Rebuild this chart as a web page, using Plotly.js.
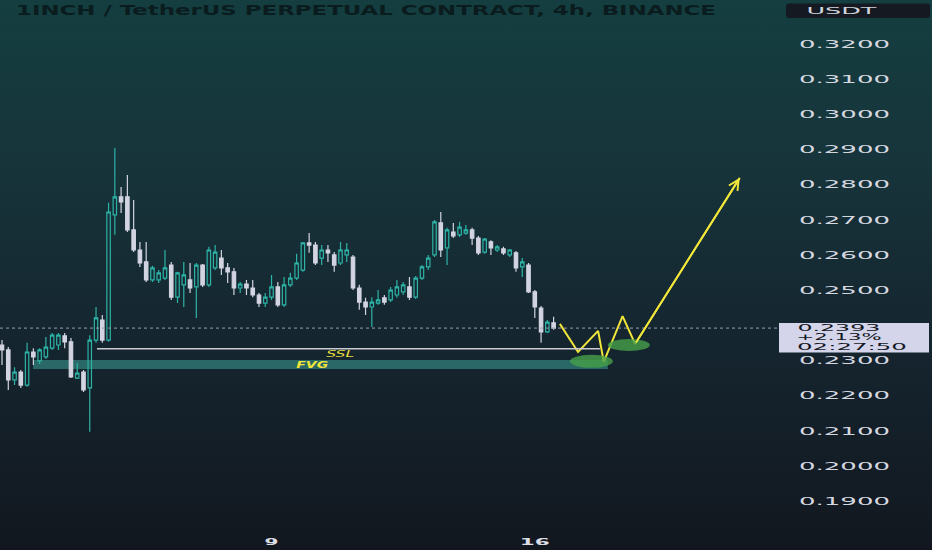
<!DOCTYPE html>
<html><head><meta charset="utf-8">
<script src="https://cdn.plot.ly/plotly-3.0.1.min.js"></script>
<style>
html,body{margin:0;padding:0;background:#131722;}
#chart{width:932px;height:550px;background:linear-gradient(180deg,#143e40 0%,#17343b 30%,#152630 60%,#12171f 100%);}
</style></head><body><div id="chart"></div>
<script>
// ---- data (4h candles) ----
const startTime = Date.UTC(2024, 10, 1, 20); // first candle: Nov 1, 20:00
const open = [
 .2345,.2331,.2246,.2268,.2231,.2325,.2300,.2311,.2336,.2345,
 .2371,.2354,.2251,.2268,.2223,.2359,.2416,.2359,.2715,.2766,
 .2766,.2672,.2615,.2581,.2530,.2530,.2535,.2572,.2481,.2516,
 .2530,.2510,.2572,.2516,.2564,.2592,.2564,.2553,.2507,.2518,
 .2507,.2487,.2464,.2481,.2510,.2459,.2516,.2535,.2558,.2635,
 .2629,.2592,.2615,.2601,.2578,.2601,.2595,.2507,.2467,.2453,
 .2464,.2479,.2473,.2487,.2496,.2510,.2481,.2535,.2567,.2601,
 .2692,.2621,.2666,.2658,.2663,.2672,.2649,.2609,.2638,.2615,
 .2618,.2601,.2607,.2567,.2572,.2496,.2450,.2382,.2408];
const high = [
 .2359,.2339,.2282,.2274,.2351,.2336,.2336,.2368,.2379,.2379,
 .2379,.2365,.2294,.2274,.2373,.2453,.2430,.2749,.2905,.2794,
 .2828,.2757,.2638,.2638,.2570,.2558,.2615,.2581,.2553,.2581,
 .2578,.2578,.2575,.2624,.2629,.2615,.2578,.2564,.2524,.2530,
 .2530,.2493,.2493,.2544,.2524,.2538,.2550,.2604,.2638,.2663,
 .2638,.2629,.2629,.2609,.2638,.2635,.2601,.2516,.2479,.2481,
 .2501,.2487,.2510,.2530,.2524,.2538,.2541,.2572,.2601,.2700,
 .2723,.2678,.2692,.2695,.2686,.2678,.2655,.2649,.2643,.2629,
 .2624,.2618,.2612,.2592,.2578,.2501,.2456,.2416,.2425];
const low = [
 .2288,.2217,.2231,.2223,.2226,.2288,.2291,.2305,.2331,.2331,
 .2336,.2251,.2248,.2211,.2098,.2351,.2351,.2354,.2658,.2720,
 .2666,.2609,.2567,.2524,.2524,.2521,.2530,.2473,.2464,.2453,
 .2493,.2422,.2510,.2510,.2558,.2544,.2521,.2487,.2493,.2487,
 .2481,.2453,.2453,.2473,.2453,.2453,.2510,.2530,.2553,.2607,
 .2572,.2572,.2581,.2553,.2572,.2581,.2501,.2445,.2430,.2396,
 .2459,.2459,.2467,.2479,.2487,.2473,.2476,.2530,.2558,.2595,
 .2595,.2572,.2649,.2652,.2658,.2629,.2601,.2604,.2601,.2609,
 .2601,.2595,.2553,.2538,.2493,.2422,.2351,.2379,.2388];
const close = [
 .2331,.2246,.2268,.2231,.2325,.2311,.2331,.2339,.2373,.2373,
 .2354,.2254,.2265,.2217,.2359,.2422,.2359,.2723,.2766,.2752,
 .2672,.2615,.2578,.2530,.2564,.2550,.2564,.2481,.2550,.2544,
 .2507,.2572,.2516,.2615,.2609,.2564,.2553,.2507,.2518,.2507,
 .2487,.2464,.2481,.2510,.2459,.2516,.2535,.2578,.2635,.2629,
 .2578,.2615,.2607,.2572,.2615,.2615,.2507,.2467,.2453,.2467,
 .2473,.2467,.2501,.2510,.2516,.2481,.2535,.2567,.2592,.2695,
 .2615,.2672,.2655,.2680,.2672,.2649,.2607,.2646,.2621,.2624,
 .2607,.2615,.2564,.2581,.2496,.2453,.2382,.2410,.2393];

const priceTicks = [0.32,0.31,0.30,0.29,0.28,0.27,0.26,0.25,0.23,0.22,0.21,0.20,0.19];
const priceTickText = ['0.3200','0.3100','0.3000','0.2900','0.2800','0.2700','0.2600','0.2500','0.2300','0.2200','0.2100','0.2000','0.1900'];
const dateTicks = ['2024-11-09 00:00','2024-11-16 00:00'];
const dateTickText = ['9','16'];

// drawings
const zigzagTimes = ['2024-11-16 16:00','2024-11-17 03:36','2024-11-17 16:24','2024-11-17 20:00','2024-11-18 08:00','2024-11-18 16:00','2024-11-21 10:48'];
const zigzagPrices = [0.2405,0.2325,0.2385,0.2297,0.2427,0.2348,0.2820];
const sslLevel = 0.2334, sslStart = '2024-11-04 08:36', sslEnd = '2024-11-17 17:36';
const fvgLow = 0.2277, fvgHigh = 0.2302, fvgStart = '2024-11-02 15:48', fvgEnd = '2024-11-17 22:36';
const zone1 = {t0:'2024-11-16 22:24', t1:'2024-11-18 01:48', p0:0.2280, p1:0.2317};
const zone2 = {t0:'2024-11-17 22:36', t1:'2024-11-19 01:24', p0:0.2328, p1:0.2362};
const lastPriceText = '0.2393', changeText = '+2.13%', countdownText = '02:27:50';
const titleText = '1INCH / TetherUS PERPETUAL CONTRACT, 4h, BINANCE';

function barTime(k){
  return new Date(startTime + k*4*3600000).toISOString().slice(0,16).replace('T',' ');
}
const times = open.map((_,k)=>barTime(k));
const lastClose = close[close.length-1];

const W = 932, H = 550, ML = 0, MR = 154, MT = 0, MB = 30;
const plotW = W-ML-MR, plotH = H-MT-MB;
const px = v => v/plotW;      // pixel to paper x
const py = v => 1 - v/plotH;  // pixel to paper y

const traces = [
 {type:'candlestick', x:times, open:open, high:high, low:low, close:close,
  increasing:{line:{color:'#2db3a6',width:1.2}, fillcolor:'rgba(0,0,0,0)'},
  decreasing:{line:{color:'#d3d4e2',width:1.2}, fillcolor:'#d3d4e2'},
  whiskerwidth:0, hoverinfo:'skip', showlegend:false},
 {type:'scatter', mode:'lines', x:zigzagTimes, y:zigzagPrices,
  line:{color:'#f2e63a',width:2}, hoverinfo:'skip', showlegend:false}
];

const layout = {
  width:W, height:H, margin:{l:ML,r:MR,t:MT,b:MB},
  paper_bgcolor:'rgba(0,0,0,0)', plot_bgcolor:'rgba(0,0,0,0)',
  showlegend:false, boxgap:0.22,
  title:{text:titleText, x:16/W, xanchor:'left', xref:'container', y:1-10.5/H, yanchor:'middle', yref:'container',
         font:{family:'DejaVu Sans', size:13.5, color:'#0b1c1f', weight:'bold'}},
  xaxis:{type:'date', range:[barTime(-0.32), barTime(123.8)], rangeslider:{visible:false},
         showgrid:false, zeroline:false, showline:false, ticks:'',
         tickvals:dateTicks, ticktext:dateTickText, ticklabelstandoff:15,
         tickfont:{family:'DejaVu Sans', size:8.5, color:'#dcdee6', weight:'bold'}},
  yaxis:{side:'right', range:[0.18475,0.33256], showgrid:false, zeroline:false, showline:false, ticks:'',
         tickvals:priceTicks, ticktext:priceTickText, ticklabelstandoff:20,
         tickfont:{family:'DejaVu Sans', size:9.8, color:'#d6d8e0'}},
  shapes:[
    {type:'rect', layer:'below', xref:'x', yref:'y', x0:fvgStart, x1:fvgEnd, y0:fvgLow, y1:fvgHigh,
     fillcolor:'rgba(55,150,140,0.6)', line:{width:0}},
    {type:'line', xref:'x', yref:'y', x0:sslStart, x1:sslEnd, y0:sslLevel, y1:sslLevel,
     line:{color:'#c9cbd1', width:1.5}},
    {type:'line', xref:'paper', yref:'y', x0:0, x1:1, y0:lastClose, y1:lastClose,
     line:{color:'#9a9ea7', width:1, dash:'dot'}},
    {type:'circle', xref:'x', yref:'y', x0:zone1.t0, x1:zone1.t1, y0:zone1.p0, y1:zone1.p1,
     fillcolor:'rgba(70,160,72,0.8)', line:{width:0}},
    {type:'circle', xref:'x', yref:'y', x0:zone2.t0, x1:zone2.t1, y0:zone2.p0, y1:zone2.p1,
     fillcolor:'rgba(70,160,72,0.8)', line:{width:0}},
    {type:'rect', xref:'paper', yref:'y', ysizemode:'pixel', yanchor:lastClose, y0:-24.5, y1:5,
     x0:px(779), x1:px(929), fillcolor:'#d4d5ea', line:{width:0}},
    {type:'path', xref:'paper', yref:'paper',
     path:`M${px(789)},${py(3.5)} L${px(927)},${py(3.5)} Q${px(930)},${py(3.5)} ${px(930)},${py(6.5)} L${px(930)},${py(15)} Q${px(930)},${py(18)} ${px(927)},${py(18)} L${px(789)},${py(18)} Q${px(786)},${py(18)} ${px(786)},${py(15)} L${px(786)},${py(6.5)} Q${px(786)},${py(3.5)} ${px(789)},${py(3.5)} Z`,
     fillcolor:'#141922', line:{width:0}}
  ],
  annotations:[
    {text:'USDT', xref:'paper', yref:'paper', x:px(842), y:py(11), xanchor:'center', yanchor:'middle',
     showarrow:false, font:{family:'DejaVu Sans', size:9, color:'#d1d4dc'}},
    {text:lastPriceText, xref:'paper', yref:'y', x:px(838.5), y:lastClose, yshift:0, xanchor:'center', yanchor:'middle',
     showarrow:false, font:{family:'DejaVu Sans', size:8.5, color:'#131722'}},
    {text:changeText, xref:'paper', yref:'y', x:px(839.5), y:lastClose, yshift:-9.5, xanchor:'center', yanchor:'middle',
     showarrow:false, font:{family:'DejaVu Sans', size:8, color:'#131722'}},
    {text:countdownText, xref:'paper', yref:'y', x:px(852), y:lastClose, yshift:-19, xanchor:'center', yanchor:'middle',
     showarrow:false, font:{family:'DejaVu Sans', size:8, color:'#131722'}},
    {text:'SSL', xref:'x', yref:'y', x:'2024-11-10 19:36', y:0.2319, xanchor:'center', yanchor:'middle',
     showarrow:false, font:{family:'DejaVu Sans', size:8, color:'#e8dc3a', style:'italic'}},
    {text:'FVG', xref:'x', yref:'y', x:'2024-11-10 02:24', y:0.2289, xanchor:'center', yanchor:'middle',
     showarrow:false, font:{family:'DejaVu Sans', size:9, color:'#f2e63a', style:'italic', weight:'bold'}},
    {text:'', xref:'x', yref:'y', axref:'x', ayref:'y', x:zigzagTimes[6], y:zigzagPrices[6],
     ax:zigzagTimes[5], ay:zigzagPrices[5], showarrow:true, arrowhead:5, arrowsize:1.1, arrowwidth:1.8, arrowcolor:'#f2e63a'}
  ]
};

function stretch(){
  const gd = document.getElementById('chart');
  const setLen = (el,w)=>{ el.setAttribute('textLength', w); el.setAttribute('lengthAdjust','spacingAndGlyphs'); };
  gd.querySelectorAll('.ytick text').forEach(t=>setLen(t,91));
  const xmap = {'9':14,'16':30};
  gd.querySelectorAll('.xtick text').forEach(t=>{ const w = xmap[t.textContent.trim()]; if(w) setLen(t,w); });
  const tt = gd.querySelector('.gtitle'); if(tt) setLen(tt,700);
  const amap = {'USDT':70,'0.2393':83,'+2.13%':85,'02:27:50':110,'SSL':28,'FVG':32};
  gd.querySelectorAll('.annotation-text').forEach(t=>{ const w = amap[t.textContent.trim()]; if(w) setLen(t,w); });
}
Plotly.newPlot('chart', traces, layout, {staticPlot:true, displayModeBar:false}).then(stretch);
</script></body></html>
